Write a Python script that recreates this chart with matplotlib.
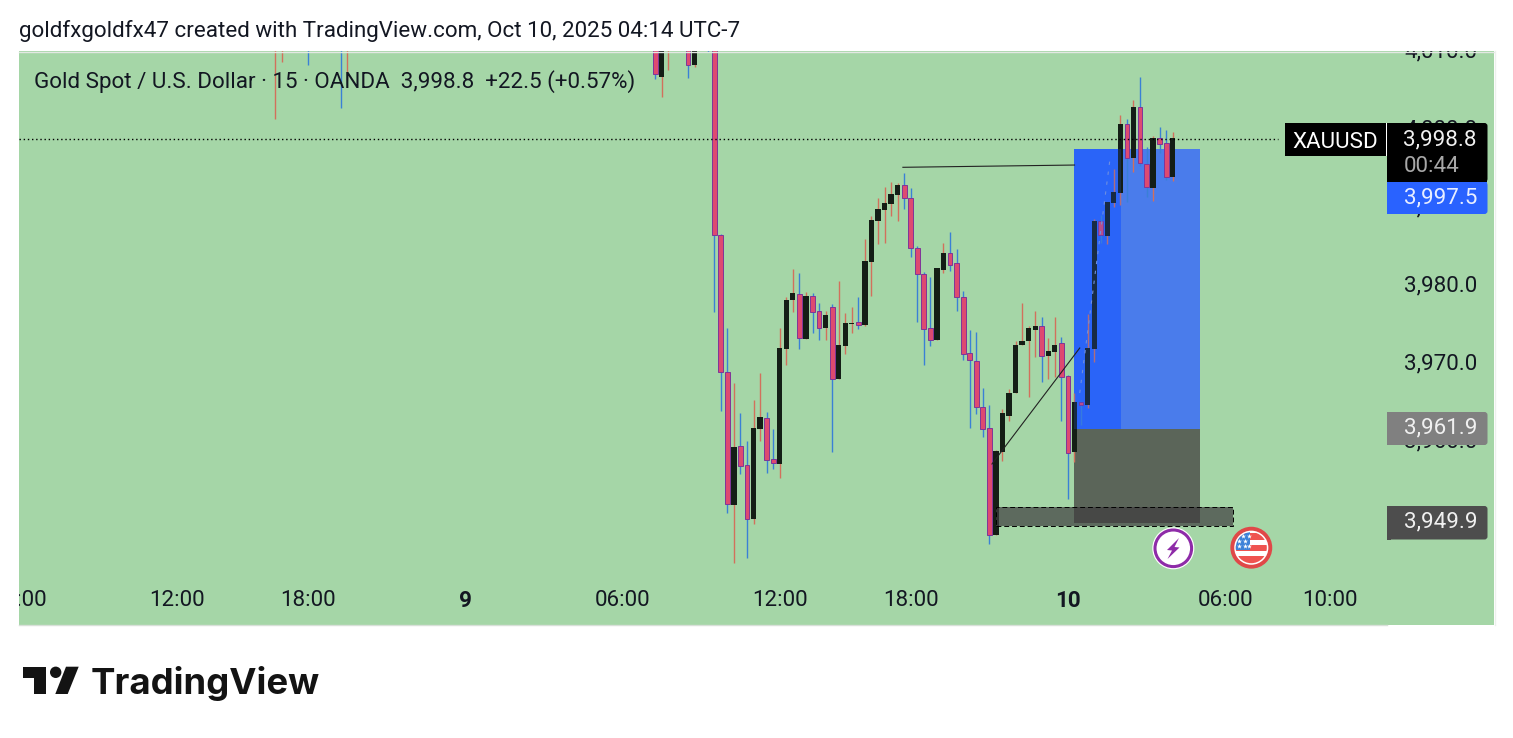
import matplotlib
matplotlib.use('Agg')
import numpy as np
import matplotlib.pyplot as plt
from matplotlib.patches import Rectangle, Circle, Polygon, FancyBboxPatch
from matplotlib.transforms import blended_transform_factory, IdentityTransform

plt.rcParams['font.family'] = ['Roboto', 'DejaVu Sans']

# bars counted from the big drop candle, 15 minutes each
bar_index = [-67, -66, -62, -57, -56, -9, -8, -7, -4, -3, -1] + list(range(0, 71))

opens = [4012, 4012, 4014, 4014, 4012, 4013, 4006.7, 4012, 4012, 4008.2, 4014,
         4013, 3986.4, 3968.8, 3951.8, 3959.4, 3956.9, 3950.0, 3961.5, 3962.9, 3957.7,
         3957.1, 3971.8, 3978.1, 3978.9, 3973.1, 3978.6, 3976.7, 3974.5, 3977.2, 3967.9,
         3972.2, 3975.0, 3975.3, 3974.9, 3983.0, 3988.2, 3989.6, 3990.4, 3991.5, 3992.8,
         3991.2, 3984.7, 3981.4, 3974.5, 3973.0, 3981.9, 3984.1, 3982.8, 3978.5, 3971.3,
         3970.3, 3964.4, 3961.7, 3947.9, 3958.6, 3963.2, 3966.1, 3972.3, 3972.8, 3974.2,
         3974.7, 3970.9, 3971.4, 3972.6, 3968.3, 3958.6, 3965.0, 3964.6, 3971.8, 3988.2,
         3986.3, 3990.5, 3991.8, 4000.6, 3996.3, 4002.8, 3995.5, 3992.4, 3998.8, 3998.2,
         3993.8]
highs = [4014, 4014, 4016, 4016, 4014, 4014, 4014, 4014, 4014, 4014, 4016,
         4014, 3986.6, 3974.5, 3967.4, 3963.6, 3960.0, 3965.3, 3968.7, 3963.7, 3961.5,
         3974.5, 3978.4, 3982.1, 3981.5, 3979.1, 3979.0, 3977.7, 3976.7, 3977.6, 3980.5,
         3976.4, 3977.2, 3978.5, 3985.9, 3988.8, 3991.2, 3992.6, 3993.2, 3993.1, 3994.4,
         3992.4, 3985.0, 3981.7, 3981.0, 3982.2, 3985.4, 3986.8, 3984.6, 3979.2, 3974.2,
         3974.0, 3966.8, 3964.6, 3958.8, 3964.1, 3966.7, 3972.8, 3977.7, 3974.7, 3976.7,
         3975.9, 3973.2, 3975.9, 3973.3, 3968.5, 3966.2, 3965.1, 3976.3, 3988.5, 3989.0,
         3990.6, 3994.9, 4001.8, 4001.3, 4003.7, 4006.7, 3997.7, 3999.1, 4000.3, 3999.9,
         3999.6]
lows = [4001.3, 4008.6, 4008.2, 4002.7, 4006.3, 4006.4, 4004.1, 4007.5, 4006.6, 4007.9, 4009.9,
        3976.6, 3963.8, 3950.8, 3944.3, 3955.8, 3945.0, 3949.4, 3960.0, 3955.9, 3956.4,
        3955.2, 3969.7, 3976.5, 3971.8, 3973.1, 3973.8, 3973.0, 3973.0, 3958.6, 3967.9,
        3971.1, 3973.8, 3974.4, 3974.7, 3978.6, 3985.3, 3985.4, 3988.9, 3988.2, 3989.7,
        3983.6, 3975.3, 3969.8, 3972.2, 3973.0, 3981.5, 3981.8, 3976.7, 3970.4, 3961.7,
        3963.5, 3960.5, 3946.8, 3947.9, 3957.4, 3962.6, 3966.1, 3972.3, 3965.7, 3970.8,
        3967.6, 3968.0, 3968.2, 3962.5, 3952.6, 3957.3, 3962.1, 3964.2, 3970.1, 3985.4,
        3985.3, 3990.0, 3990.3, 3990.6, 3994.5, 3995.3, 3991.3, 3990.8, 3996.9, 3993.4,
        3993.3]
closes = [4013, 4013, 4012, 4012, 4013, 4007.0, 4012, 4013, 4008.2, 4012, 4012,
          3986.4, 3968.8, 3951.9, 3959.2, 3956.8, 3950.0, 3961.7, 3963.1, 3957.5, 3957.2,
          3971.9, 3978.1, 3979.0, 3973.2, 3978.6, 3976.6, 3974.5, 3976.2, 3968.0, 3972.3,
          3975.1, 3975.1, 3974.9, 3983.1, 3988.3, 3989.7, 3990.5, 3991.7, 3992.8, 3991.1,
          3984.7, 3981.4, 3974.3, 3973.0, 3982.2, 3984.1, 3982.6, 3978.4, 3971.1, 3970.4,
          3964.4, 3961.6, 3947.9, 3958.7, 3963.6, 3966.2, 3972.3, 3972.8, 3974.5, 3974.7,
          3970.9, 3971.5, 3972.3, 3968.2, 3958.5, 3965.0, 3964.6, 3971.9, 3988.2, 3986.4,
          3990.6, 3991.9, 4000.6, 3996.3, 4002.8, 3995.7, 3992.6, 3998.8, 3998.1, 3993.8,
          3998.8]

time_labels = ['06:00', '12:00', '18:00', '9', '06:00', '12:00', '18:00', '10', '06:00', '10:00']
time_bars = [-106, -82, -62, -38, -14, 10, 30, 54, 78, 94]
bold_labels = ['9', '10']
price_ticks = [4010, 4000, 3990, 3980, 3970, 3960, 3950]

last_price = 3998.7
tp_price = 3997.44
entry_price = 3961.6
sl_price = 3949.5
zone_top = 3951.5
zone_bottom = 3949.14

BG = '#A5D6A7'
PINK = '#DE4A70'
PINK_EDGE = '#7F3599'
BLACK = '#141E16'
WICK_UP = '#D2705C'
WICK_DOWN = '#3A80D6'
INK = '#131722'
FS = 16.15

fig = plt.figure(figsize=(15.13, 7.38), dpi=100, facecolor='white')
ax = fig.add_axes([19 / 1513, (738 - 625) / 738, (1494 - 19) / 1513, (625 - 51) / 738])
ax.set_facecolor(BG)
ax.set_xlim(-106.15, 119.05)
ax.set_ylim(3936.41, 4010.0)
ax.set_xticks([])
ax.set_yticks([])
for s in ax.spines.values():
    s.set_visible(False)

x = np.array(bar_index)
o = np.array(opens)
h = np.array(highs)
l = np.array(lows)
c = np.array(closes)
up = c >= o

# position tool sits under the candles
ax.add_patch(Rectangle((54.9, entry_price), 7.2, tp_price - entry_price, fc='#2B65F7', ec='none', zorder=1))
ax.add_patch(Rectangle((62.1, entry_price), 12.0, tp_price - entry_price, fc='#4A7CEB', ec='none', zorder=1))
ax.add_patch(Rectangle((54.9, sl_price), 19.2, entry_price - sl_price, fc='#5B6559', ec='none', zorder=1))

ax.vlines(x[up], l[up], h[up], color=WICK_UP, lw=1.0, zorder=2)
ax.vlines(x[~up], l[~up], h[~up], color=WICK_DOWN, lw=1.0, zorder=2)
ax.bar(x[up], np.maximum(c[up] - o[up], 0.13), bottom=o[up], width=0.8, color=BLACK, lw=0, zorder=3)
ax.bar(x[~up], o[~up] - c[~up], bottom=c[~up], width=0.72, color=PINK, edgecolor=PINK_EDGE, lw=0.7, zorder=3)

# left half of the box tints what is below it
ax.add_patch(Rectangle((54.9, entry_price), 7.2, tp_price - entry_price, fc='#2962FF', ec='none', alpha=0.2, zorder=4))

ax.add_patch(Rectangle((43, zone_bottom), 36.15, zone_top - zone_bottom, fc='#3F3C3F', ec='none', alpha=0.7, zorder=5))
ax.add_patch(Rectangle((43, zone_bottom), 36.15, zone_top - zone_bottom, fc='none', ec='black', lw=0.7, ls=(0, (5, 3)), zorder=5))

ax.plot([28.8, 55], [3995.09, 3995.38], color='#222222', lw=0.8, zorder=5)
ax.plot([42.4, 55.8], [3957.05, 3971.92], color='#222222', lw=0.8, zorder=5)
ax.plot([55.8, 60.5], [3966.15, 3996.67], color='#6F8FE0', lw=0.8, ls=(0, (3, 6)), zorder=5)

ax.plot([-106.15, 86], [last_price, last_price], color='black', lw=1, ls=(0, (1, 2)), zorder=6)

trans = blended_transform_factory(ax.transData, ax.transAxes)
for lab, b in zip(time_labels, time_bars):
    ax.text(b, 24 / 574, lab, transform=trans, ha='center', va='center', fontsize=FS, color=INK,
            fontweight='bold' if lab in bold_labels else 'normal', clip_on=True, zorder=6)
# right price scale, text runs up to the pane top and gets cut there
scale_trans = blended_transform_factory(IdentityTransform(), ax.transData)
for p in price_ticks:
    ax.text(1477, p - 0.13, f'{p:,.1f}', transform=scale_trans,
            ha='right', va='center', fontsize=FS, color=INK, clip_on=True, zorder=6)

# overlay in image pixels for labels, badges, logo
ov = fig.add_axes([0, 0, 1, 1], zorder=10)
ov.set_xlim(0, 1513)
ov.set_ylim(738, 0)
ov.axis('off')
ov.patch.set_alpha(0)

ov.text(19, 31, 'goldfxgoldfx47 created with TradingView.com, Oct 10, 2025 04:14 UTC-7',
        fontsize=FS, color=INK, ha='left', va='center')
ov.text(34, 82, 'Gold Spot / U.S. Dollar · 15 · OANDA  3,998.8  +22.5 (+0.57%)',
        fontsize=FS, color=INK, ha='left', va='center')

ov.plot([19, 1387], [625, 625], color='#D8E0D8', lw=1)
ov.plot([19, 1494], [51.5, 51.5], color='#E4E8E4', lw=1)
ov.plot([1494.5, 1494.5], [51, 625], color='#EDF0ED', lw=1)


def label_box(x0, y0, x1, y1, color):
    ov.add_patch(FancyBboxPatch((x0 + 3, y0 + 3), x1 - x0 - 6, y1 - y0 - 6,
                                boxstyle='round,pad=3,rounding_size=3', fc=color, ec='none'))
    ov.add_patch(Rectangle((x0, y0), 4, y1 - y0, fc=color, ec='none'))


label_box(1285, 123, 1392, 156, 'black')
ov.add_patch(Rectangle((1387, 123), 1, 33, fc='black', ec='none', zorder=3))
ov.add_patch(Rectangle((1386, 123), 1, 33, fc='white', ec='none', zorder=3))
label_box(1387, 123, 1487.5, 182, 'black')
label_box(1387, 182, 1487.5, 214, '#2962FF')
label_box(1387, 412, 1487.5, 445, '#808080')
label_box(1387, 506, 1487.5, 539.5, '#4D4D4D')
ov.add_patch(Rectangle((1387, 176), 100, 6, fc='black', ec='none'))
ov.add_patch(Rectangle((1387, 182), 100, 6, fc='#2962FF', ec='none'))

ov.text(1335, 142, 'XAUUSD', color='white', fontsize=FS, ha='center', va='center', zorder=4)
ov.text(1477, 140, '3,998.8', color='#F0F0F0', fontsize=FS, ha='right', va='center', zorder=4)
ov.text(1404, 166, '00:44', color='#A8A8A8', fontsize=FS, ha='left', va='center', zorder=4)
ov.text(1477, 198, '3,997.5', color='#E8EEFF', fontsize=FS, ha='right', va='center', zorder=4)
ov.text(1477, 428, '3,961.9', color='#F0F0F0', fontsize=FS, ha='right', va='center', zorder=4)
ov.text(1477.5, 522, '3,949.9', color='#F0F0F0', fontsize=FS, ha='right', va='center', zorder=4)

# earnings-style badge
ov.add_patch(Circle((1173.3, 548.3), 21, fc='white', ec='none'))
ov.add_patch(Circle((1173.3, 548.3), 18.3, fc='white', ec='#8E2BA8', lw=2.2))
ov.add_patch(Polygon([(1179, 538), (1167, 550), (1172, 550.5), (1167.5, 559), (1179.5, 547.5), (1174.5, 547)],
                     closed=True, fc='#8E2BA8', ec='none'))

# flag badge
ov.add_patch(Circle((1251.3, 547.7), 19, fc='white', ec='#E04848', lw=2.8))
clip = Circle((1251.3, 547.7), 15.5, transform=ov.transData)
for y0, y1 in [(533, 539.5), (545, 551), (556, 565)]:
    r = Rectangle((1235, y0), 34, y1 - y0, fc='#EF5350', ec='none')
    ov.add_patch(r)
    r.set_clip_path(clip)
r = Rectangle((1235, 531), 15, 18.5, fc='#3D82D8', ec='none', zorder=3)
ov.add_patch(r)
r.set_clip_path(clip)
sx = [1243, 1249, 1239, 1245, 1239, 1245, 1249]
sy = [536, 536, 541, 541, 546, 546, 546]
ov.scatter(sx, sy, marker='*', s=14, c='white', lw=0, zorder=4)

# logo
ov.add_patch(Polygon([(22.7, 666.7), (45.7, 666.7), (45.7, 694), (34.3, 694), (34.3, 678), (22.7, 678)], closed=True, fc='#131313', ec='none'))
ov.add_patch(Circle((55.7, 672.3), 5.7, fc='#131313', ec='none'))
ov.add_patch(Polygon([(66, 666.7), (78.7, 666.7), (67.7, 694), (55.3, 694)], closed=True, fc='#131313', ec='none'))
ov.text(91, 683.5, 'TradingView', family='Inter', fontweight='bold', fontsize=26.3, color='#131313', ha='left', va='center')

fig.savefig('out.png', dpi=100)
